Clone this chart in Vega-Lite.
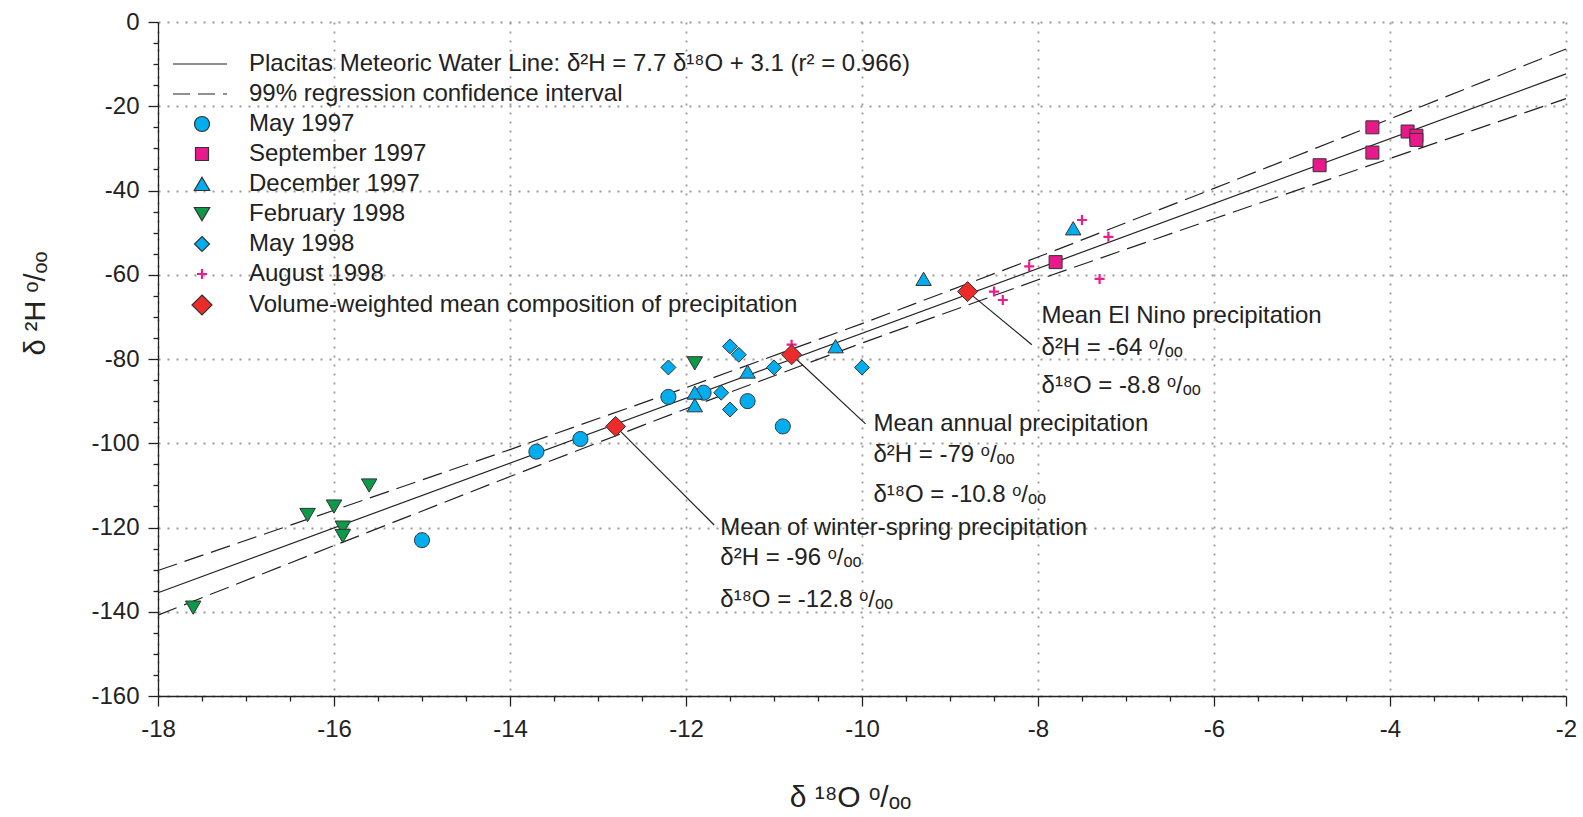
{
  "$schema": "https://vega.github.io/schema/vega-lite/v6.json",
  "width": 1408,
  "height": 674,
  "autosize": {"type": "none"},
  "padding": {"left": 158, "top": 22, "right": 17, "bottom": 121},
  "background": "white",
  "config": {"view": {"stroke": null}, "font": "Liberation Sans"},
  "datasets": {
    "ci": [
      {"x": -18, "y": -130.2, "bound": "upper"},
      {"x": -16, "y": -115.9, "bound": "upper"},
      {"x": -14, "y": -101.5, "bound": "upper"},
      {"x": -12, "y": -86.8, "bound": "upper"},
      {"x": -10, "y": -71.6, "bound": "upper"},
      {"x": -8, "y": -55.8, "bound": "upper"},
      {"x": -6, "y": -39.5, "bound": "upper"},
      {"x": -4, "y": -23.0, "bound": "upper"},
      {"x": -2, "y": -6.4, "bound": "upper"},
      {"x": -18, "y": -140.8, "bound": "lower"},
      {"x": -16, "y": -124.3, "bound": "lower"},
      {"x": -14, "y": -107.9, "bound": "lower"},
      {"x": -12, "y": -91.8, "bound": "lower"},
      {"x": -10, "y": -76.2, "bound": "lower"},
      {"x": -8, "y": -61.2, "bound": "lower"},
      {"x": -6, "y": -46.7, "bound": "lower"},
      {"x": -4, "y": -32.4, "bound": "lower"},
      {"x": -2, "y": -18.2, "bound": "lower"}
    ],
    "mwl": [
      {"x": -18, "y": -135.5},
      {"x": -2, "y": -12.3}
    ],
    "leaders": [
      {"x": -8.8, "y": -64, "x2": -8.07, "y2": -76.6},
      {"x": -10.8, "y": -79, "x2": -9.96, "y2": -95.4},
      {"x": -12.8, "y": -96, "x2": -11.68, "y2": -119.4}
    ],
    "points": [
      {"x": -12.2, "y": -89, "series": "May 1997"},
      {"x": -11.8, "y": -88, "series": "May 1997"},
      {"x": -11.3, "y": -90, "series": "May 1997"},
      {"x": -10.9, "y": -96, "series": "May 1997"},
      {"x": -13.7, "y": -102, "series": "May 1997"},
      {"x": -13.2, "y": -99, "series": "May 1997"},
      {"x": -15.0, "y": -123, "series": "May 1997"},
      {"x": -7.8, "y": -57, "series": "September 1997"},
      {"x": -4.8, "y": -34, "series": "September 1997"},
      {"x": -4.2, "y": -25, "series": "September 1997"},
      {"x": -4.2, "y": -31, "series": "September 1997"},
      {"x": -3.8, "y": -26, "series": "September 1997"},
      {"x": -3.7, "y": -27, "series": "September 1997"},
      {"x": -3.7, "y": -28, "series": "September 1997"},
      {"x": -7.6, "y": -49, "series": "December 1997"},
      {"x": -9.3, "y": -61, "series": "December 1997"},
      {"x": -10.3, "y": -77, "series": "December 1997"},
      {"x": -11.3, "y": -83, "series": "December 1997"},
      {"x": -11.9, "y": -88, "series": "December 1997"},
      {"x": -11.9, "y": -91, "series": "December 1997"},
      {"x": -11.9, "y": -81, "series": "February 1998"},
      {"x": -15.6, "y": -110, "series": "February 1998"},
      {"x": -16.0, "y": -115, "series": "February 1998"},
      {"x": -16.3, "y": -117, "series": "February 1998"},
      {"x": -15.9, "y": -120, "series": "February 1998"},
      {"x": -15.9, "y": -122, "series": "February 1998"},
      {"x": -17.6, "y": -139, "series": "February 1998"},
      {"x": -12.2, "y": -82, "series": "May 1998"},
      {"x": -11.5, "y": -77, "series": "May 1998"},
      {"x": -11.4, "y": -79, "series": "May 1998"},
      {"x": -11.0, "y": -82, "series": "May 1998"},
      {"x": -10.0, "y": -82, "series": "May 1998"},
      {"x": -11.6, "y": -88, "series": "May 1998"},
      {"x": -11.5, "y": -92, "series": "May 1998"},
      {"x": -10.8, "y": -76.6, "series": "August 1998"},
      {"x": -7.5, "y": -47, "series": "August 1998"},
      {"x": -7.2, "y": -51, "series": "August 1998"},
      {"x": -8.1, "y": -58, "series": "August 1998"},
      {"x": -7.3, "y": -61, "series": "August 1998"},
      {"x": -8.5, "y": -64, "series": "August 1998"},
      {"x": -8.4, "y": -66, "series": "August 1998"},
      {"x": -12.8, "y": -96, "series": "Volume-weighted mean composition of precipitation"},
      {"x": -10.8, "y": -79, "series": "Volume-weighted mean composition of precipitation"},
      {"x": -8.8, "y": -64, "series": "Volume-weighted mean composition of precipitation"}
    ],
    "labels": [
      {"x": -7.96, "y": -69.9, "text": "Mean El Nino precipitation"},
      {"x": -7.96, "y": -77.3, "text": "δ²H = -64 ᵒ/ₒₒ"},
      {"x": -7.96, "y": -86.5, "text": "δ¹⁸O = -8.8 ᵒ/ₒₒ"},
      {"x": -9.87, "y": -95.4, "text": "Mean annual precipitation"},
      {"x": -9.87, "y": -102.9, "text": "δ²H = -79 ᵒ/ₒₒ"},
      {"x": -9.87, "y": -112.2, "text": "δ¹⁸O = -10.8 ᵒ/ₒₒ"},
      {"x": -11.61, "y": -120.1, "text": "Mean of winter-spring precipitation"},
      {"x": -11.61, "y": -127.2, "text": "δ²H = -96 ᵒ/ₒₒ"},
      {"x": -11.61, "y": -137.2, "text": "δ¹⁸O = -12.8 ᵒ/ₒₒ"}
    ]
  },
  "encoding": {
    "x": {
      "field": "x",
      "type": "quantitative",
      "scale": {"domain": [-18, -2], "nice": false, "zero": false},
      "axis": {
        "title": "δ ¹⁸O ᵒ/ₒₒ",
        "titleFont": "Liberation Sans",
        "titleFontSize": 30,
        "titleFontWeight": "normal",
        "titleColor": "#222",
        "titleX": 692,
        "titleY": 101,
        "titleBaseline": "middle",
        "titleAlign": "center",
        "values": [-18, -17.5, -17, -16.5, -16, -15.5, -15, -14.5, -14, -13.5, -13, -12.5, -12, -11.5, -11, -10.5, -10, -9.5, -9, -8.5, -8, -7.5, -7, -6.5, -6, -5.5, -5, -4.5, -4, -3.5, -3, -2.5, -2],
        "labelExpr": "datum.value % 2 === 0 ? '' + datum.value : ''",
        "labelOverlap": false,
        "labelFlush": false,
        "labelFont": "Liberation Sans",
        "labelFontSize": 24,
        "labelColor": "#222",
        "labelPadding": 11,
        "tickSize": {"condition": {"test": "datum.value % 2 === 0", "value": 10}, "value": 5},
        "tickColor": "#222",
        "tickWidth": 1.3,
        "domainColor": "#222",
        "domainWidth": 1.3,
        "grid": true,
        "gridDash": [2, 7],
        "gridColor": "#999",
        "gridWidth": 1.8,
        "gridOpacity": {"condition": {"test": "datum.value % 2 !== 0", "value": 0}, "value": 1}
      }
    },
    "y": {
      "field": "y",
      "type": "quantitative",
      "scale": {"domain": [-160, 0], "nice": false, "zero": false},
      "axis": {
        "title": "δ ²H ᵒ/ₒₒ",
        "titleFont": "Liberation Sans",
        "titleFontSize": 29,
        "titleFontWeight": "normal",
        "titleColor": "#222",
        "titleX": -123,
        "titleY": 281,
        "titleBaseline": "middle",
        "titleAlign": "center",
        "values": [-160, -155, -150, -145, -140, -135, -130, -125, -120, -115, -110, -105, -100, -95, -90, -85, -80, -75, -70, -65, -60, -55, -50, -45, -40, -35, -30, -25, -20, -15, -10, -5, 0],
        "labelExpr": "datum.value % 20 === 0 ? '' + datum.value : ''",
        "labelOverlap": false,
        "labelFont": "Liberation Sans",
        "labelFontSize": 24,
        "labelColor": "#222",
        "labelPadding": 9,
        "tickSize": {"condition": {"test": "datum.value % 20 === 0", "value": 10}, "value": 5},
        "tickColor": "#222",
        "tickWidth": 1.3,
        "domainColor": "#222",
        "domainWidth": 1.3,
        "grid": true,
        "gridDash": [2, 7],
        "gridColor": "#999",
        "gridWidth": 1.8,
        "gridOpacity": {"condition": {"test": "datum.value % 20 !== 0", "value": 0}, "value": 1}
      }
    }
  },
  "layer": [
    {
      "data": {"name": "ci"},
      "mark": {"type": "line", "color": "#222", "strokeWidth": 1.2, "strokeDash": [20, 8]},
      "encoding": {"detail": {"field": "bound", "type": "nominal"}}
    },
    {
      "data": {"name": "mwl"},
      "mark": {"type": "line", "color": "#222", "strokeWidth": 1.2},
      "encoding": {}
    },
    {
      "data": {"name": "leaders"},
      "mark": {"type": "rule", "color": "#222", "strokeWidth": 1.2},
      "encoding": {"x2": {"field": "x2"}, "y2": {"field": "y2"}}
    },
    {
      "data": {"name": "points"},
      "mark": {"type": "point", "opacity": 1, "strokeWidth": 1, "size": 100},
      "encoding": {
        "shape": {
          "field": "series",
          "type": "nominal",
          "scale": {
            "domain": ["Placitas Meteoric Water Line: δ²H = 7.7 δ¹⁸O + 3.1 (r² = 0.966)", "99% regression confidence interval", "May 1997", "September 1997", "December 1997", "February 1998", "May 1998", "August 1998", "Volume-weighted mean composition of precipitation"],
            "range": [
              "M-5.8,0H5",
              "M-5.8,0H-2.4M-0.8,0H2.6M4.2,0H5",
              "M-1.5,0A1.5,1.5 0 1,1 1.5,0A1.5,1.5 0 1,1 -1.5,0Z",
              "M-1.3,-1.3H1.3V1.3H-1.3Z",
              "M0,-1.35L1.55,1.3H-1.55Z",
              "M0,1.35L1.55,-1.3H-1.55Z",
              "M0,-1.5L1.5,0L0,1.5L-1.5,0Z",
              "M-1,-0.22H-0.22V-1H0.22V-0.22H1V0.22H0.22V1H-0.22V0.22H-1Z",
              "M0,-2L2,0L0,2L-2,0Z"
            ]
          },
          "legend": {
            "orient": "none",
            "legendX": 32,
            "legendY": 30,
            "title": null,
            "padding": 0,
            "symbolSize": 100,
            "labelFont": "Liberation Sans",
            "labelFontSize": 24,
            "labelColor": "#222",
            "labelOffset": 35,
            "labelLimit": 1200,
            "rowPadding": 6,
            "symbolStrokeWidth": 1.2
          }
        },
        "fill": {
          "field": "series",
          "type": "nominal",
          "scale": {
            "domain": ["Placitas Meteoric Water Line: δ²H = 7.7 δ¹⁸O + 3.1 (r² = 0.966)", "99% regression confidence interval", "May 1997", "September 1997", "December 1997", "February 1998", "May 1998", "August 1998", "Volume-weighted mean composition of precipitation"],
            "range": ["transparent", "transparent", "#00aeef", "#e8198b", "#00aeef", "#0a9a48", "#00aeef", "#ec1c8c", "#ee2b2b"]
          }
        },
        "stroke": {
          "field": "series",
          "type": "nominal",
          "scale": {
            "domain": ["Placitas Meteoric Water Line: δ²H = 7.7 δ¹⁸O + 3.1 (r² = 0.966)", "99% regression confidence interval", "May 1997", "September 1997", "December 1997", "February 1998", "May 1998", "August 1998", "Volume-weighted mean composition of precipitation"],
            "range": ["#222", "#222", "#333", "#333", "#333", "#333", "#333", "transparent", "#333"]
          }
        }
      }
    },
    {
      "data": {"name": "labels"},
      "mark": {"type": "text", "align": "left", "baseline": "middle", "font": "Liberation Sans", "fontSize": 24, "color": "#222"},
      "encoding": {"text": {"field": "text", "type": "nominal"}}
    },
    {
      "data": {"values": [{}]},
      "mark": {"type": "rule", "color": "#222", "strokeWidth": 1.3},
      "encoding": {"x": {"datum": -2}, "y": {"datum": -160}, "y2": {"datum": 0}}
    }
  ]
}
